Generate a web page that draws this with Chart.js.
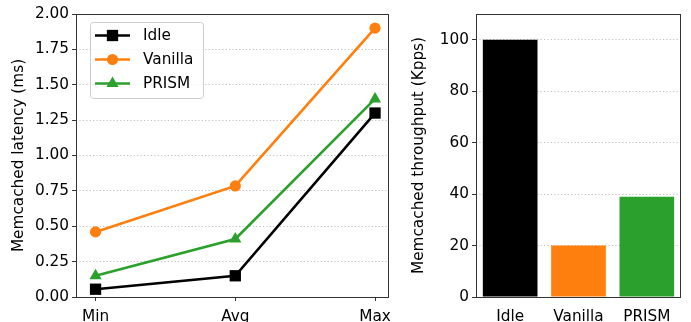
<!DOCTYPE html>
<html>
<head>
<meta charset="utf-8">
<script src="https://cdn.jsdelivr.net/npm/chart.js@4/dist/chart.umd.min.js"></script>
<style>
html,body{margin:0;padding:0;background:#fff;width:691px;height:322px;overflow:hidden;}
#c1{position:absolute;left:0;top:0;}
#c2{position:absolute;left:400px;top:0;}
</style>
</head>
<body>
<canvas id="c1" width="400" height="322"></canvas>
<canvas id="c2" width="291" height="322"></canvas>
<script>
// ---- data ----
const categories = ["Min", "Avg", "Max"];
const idleLatency = [0.055, 0.15, 1.30];
const vanillaLatency = [0.46, 0.785, 1.90];
const prismLatency = [0.15, 0.41, 1.40];
const latencyTicks = [0, 0.25, 0.5, 0.75, 1.0, 1.25, 1.5, 1.75, 2.0];

const systems = ["Idle", "Vanilla", "PRISM"];
const throughput = [100, 20, 39];
const throughputTicks = [0, 20, 40, 60, 80, 100];

const colors = ["#000000", "#ff7f0e", "#2ca02c"];
const FONT = "'DejaVu Sans', sans-serif";
const FS = 15.3;
const TXT = "#000000";

Chart.defaults.font.family = FONT;
Chart.defaults.font.size = FS;
Chart.defaults.color = TXT;
Chart.defaults.animation = false;

const frame = {
  id: 'frame',
  afterDatasetsDraw(chart) {
    const a = chart.chartArea, ctx = chart.ctx;
    ctx.save();
    ctx.strokeStyle = '#333';
    ctx.lineWidth = 1;
    ctx.strokeRect(Math.round(a.left) + 0.5, Math.round(a.top) + 0.5, Math.round(a.right - a.left) - 1, Math.round(a.bottom - a.top));
    ctx.restore();
  }
};

function drawMarker(ctx, style, x, y, r, color) {
  ctx.fillStyle = color;
  ctx.beginPath();
  if (style === 'rect') {
    const s = r * Math.SQRT1_2;
    ctx.rect(x - s, y - s, 2 * s, 2 * s);
  } else if (style === 'circle') {
    ctx.arc(x, y, r, 0, Math.PI * 2);
  } else if (style === 'triangle') {
    ctx.moveTo(x, y - r);
    ctx.lineTo(x + r * Math.sin(Math.PI * 2 / 3), y - r * Math.cos(Math.PI * 2 / 3));
    ctx.lineTo(x + r * Math.sin(Math.PI * 4 / 3), y - r * Math.cos(Math.PI * 4 / 3));
    ctx.closePath();
  }
  ctx.fill();
}

const innerLegend = {
  id: 'innerLegend',
  afterDraw(chart) {
    const ctx = chart.ctx;
    const a = chart.chartArea;
    const bx = a.left + 14, by = a.top + 8, bw = 113, bh = 76;
    ctx.save();
    ctx.fillStyle = 'rgba(255,255,255,0.8)';
    ctx.strokeStyle = '#cccccc';
    ctx.lineWidth = 1;
    ctx.beginPath();
    if (ctx.roundRect) ctx.roundRect(bx + 0.5, by + 0.5, bw, bh, 3); else ctx.rect(bx + 0.5, by + 0.5, bw, bh);
    ctx.fill(); ctx.stroke();
    chart.data.datasets.forEach((ds, i) => {
      const y = by + 13.5 + i * 24;
      const x0 = bx + 5, x1 = bx + 40;
      ctx.strokeStyle = ds.borderColor;
      ctx.lineWidth = ds.borderWidth;
      ctx.beginPath(); ctx.moveTo(x0, y); ctx.lineTo(x1, y); ctx.stroke();
      drawMarker(ctx, ds.pointStyle, (x0 + x1) / 2, y, ds.pointRadius, ds.borderColor);
      ctx.fillStyle = TXT;
      ctx.font = FS + "px " + FONT;
      ctx.textBaseline = 'middle';
      ctx.textAlign = 'left';
      ctx.fillText(ds.label, bx + 53, y + 1);
    });
    ctx.restore();
  }
};

const gridDotted = {
  color: '#b0b0b0',
  lineWidth: 0.8,
  tickColor: '#333',
  tickLength: 4,
  tickWidth: 1,
  tickBorderDash: [],
  drawTicks: true
};
const borderDotted = {display: false, dash: [1.2, 2.2]};

function mk(series, label, i, style, r) {
  return {
    label: label,
    data: series.map((v, k) => ({x: k, y: v})),
    borderColor: colors[i],
    backgroundColor: colors[i],
    borderWidth: 2.6,
    pointStyle: style,
    pointRadius: r,
    pointBorderWidth: 0,
    pointHoverRadius: r,
    tension: 0
  };
}

new Chart(document.getElementById('c1'), {
  type: 'line',
  data: {
    datasets: [
      mk(idleLatency, "Idle", 0, 'rect', 8),
      mk(vanillaLatency, "Vanilla", 1, 'circle', 5.6),
      mk(prismLatency, "PRISM", 2, 'triangle', 7)
    ]
  },
  options: {
    responsive: false,
    layout: {padding: {left: 0, right: 11, top: 14, bottom: 0}},
    plugins: {legend: {display: false}, tooltip: {enabled: false}},
    scales: {
      x: {
        type: 'linear', min: -0.14, max: 2.1,
        afterBuildTicks: ax => { ax.ticks = categories.map((c, k) => ({value: k})); },
        afterFit: ax => { ax.height = 25; },
        ticks: {callback: v => categories[v], padding: 7, maxRotation: 0, autoSkip: false},
        grid: {drawOnChartArea: false, tickColor: '#333', tickLength: 4, tickWidth: 1},
        border: {display: false}
      },
      y: {
        min: 0, max: 2,
        afterBuildTicks: ax => { ax.ticks = latencyTicks.map(v => ({value: v})); },
        afterFit: ax => { ax.width = 76; },
        ticks: {callback: v => v.toFixed(2), padding: 3},
        grid: gridDotted,
        border: borderDotted,
        title: {display: true, text: "Memcached latency (ms)", padding: {top: 10, bottom: 0}}
      }
    }
  },
  plugins: [frame, innerLegend]
});

new Chart(document.getElementById('c2'), {
  type: 'bar',
  data: {
    labels: systems,
    datasets: [{
      data: throughput,
      backgroundColor: colors,
      borderWidth: 0,
      barPercentage: 0.8,
      categoryPercentage: 1.0
    }]
  },
  options: {
    responsive: false,
    layout: {padding: {left: 0, right: 10, top: 14, bottom: 0}},
    plugins: {legend: {display: false}, tooltip: {enabled: false}},
    scales: {
      x: {
        afterFit: ax => { ax.height = 25; },
        ticks: {padding: 11, maxRotation: 0, autoSkip: false},
        grid: {display: false, drawTicks: false},
        border: {display: false}
      },
      y: {
        min: 0, max: 110,
        afterBuildTicks: ax => { ax.ticks = throughputTicks.map(v => ({value: v})); },
        afterFit: ax => { ax.width = 76; },
        ticks: {padding: 3},
        grid: gridDotted,
        border: borderDotted,
        title: {display: true, text: "Memcached throughput (Kpps)", padding: {top: 10, bottom: 0}}
      }
    }
  },
  plugins: [frame]
});
</script>
</body>
</html>
